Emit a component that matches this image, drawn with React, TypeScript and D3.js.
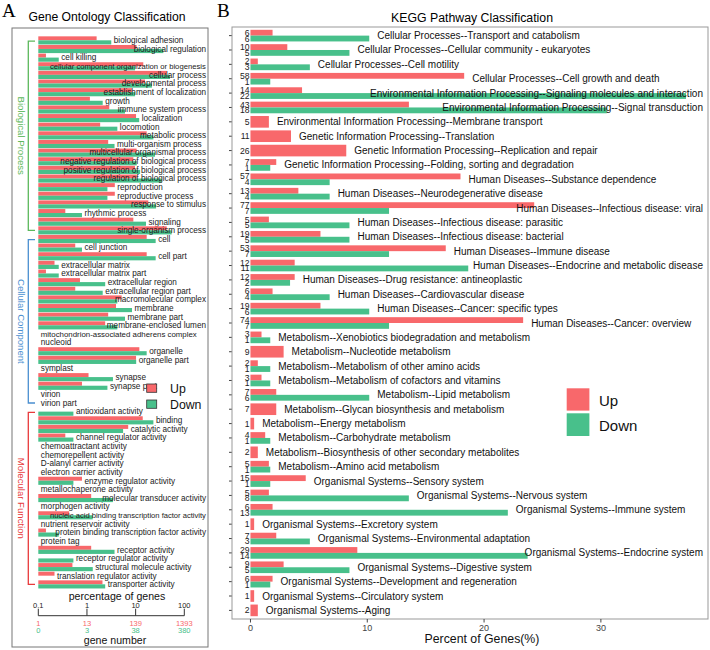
import React, { useEffect, useRef } from 'react';
import * as d3 from 'd3';

// ---- panel A: GO classification (gene counts, Up of 1393 / Down of 380) ----
const goTerms = [
  'biological adhesion', 'biological regulation', 'cell killing',
  'cellular component organization or biogenesis', 'cellular process',
  'developmental process', 'establishment of localization', 'growth',
  'immune system process', 'localization', 'locomotion', 'metabolic process',
  'multi-organism process', 'multicellular organismal process',
  'negative regulation of biological process', 'positive regulation of biological process',
  'regulation of biological process', 'reproduction', 'reproductive process',
  'response to stimulus', 'rhythmic process', 'signaling', 'single-organism process',
  'cell', 'cell junction', 'cell part', 'extracellular matrix', 'extracellular matrix part',
  'extracellular region', 'extracellular region part', 'macromolecular complex',
  'membrane', 'membrane part', 'membrane-enclosed lumen',
  'mitochondrion-associated adherens complex', 'nucleoid', 'organelle', 'organelle part',
  'symplast', 'synapse', 'synapse part', 'virion', 'virion part',
  'antioxidant activity', 'binding', 'catalytic activity', 'channel regulator activity',
  'chemoattractant activity', 'chemorepellent activity', 'D-alanyl carrier activity',
  'electron carrier activity', 'enzyme regulator activity', 'metallochaperone activity',
  'molecular transducer activity', 'morphogen activity',
  'nucleic acid binding transcription factor activity', 'nutrient reservoir activity',
  'protein binding transcription factor activity', 'protein tag', 'receptor activity',
  'receptor regulator activity', 'structural molecule activity',
  'translation regulator activity', 'transporter activity',
];
const goUp = [
  22, 146, 2, 200, 606, 217, 116, 16, 40, 142, 26, 235, 38, 146, 125, 135, 146, 52, 52,
  254, 5, 125, 606,
  235, 8, 235, 3, 2, 10, 8, 72, 55, 38, 33, 0, 0, 166, 142, 0, 15, 11, 0, 0,
  0, 195, 98, 5, 0, 0, 0, 0, 11, 0, 17, 0, 6, 0, 2, 0, 17, 0, 7, 3, 29,
];
const goDown = [
  12, 141, 1, 37, 193, 82, 37, 8, 23, 45, 16, 88, 14, 95, 40, 47, 130, 10, 10,
  100, 3, 62, 209,
  98, 3, 98, 1, 1, 9, 8, 16, 32, 23, 16, 0, 0, 64, 39, 0, 13, 10, 0, 0,
  2, 88, 21, 2, 0, 0, 0, 0, 2, 0, 13, 0, 5, 0, 1, 0, 14, 2, 5, 0, 9,
];
const goGroupNames = ['Biological Process', 'Cellular Component', 'Molecular Function'];
const goGroupSizes = [23, 20, 21];
const goUpTotal = 1393;
const goDownTotal = 380;
const goTicks = [0.1, 1, 10, 100];

// ---- panel B: KEGG classification (Up of 317 / Down of 59 genes) ----
const keggTerms = [
  'Cellular Processes--Transport and catabolism',
  'Cellular Processes--Cellular community - eukaryotes',
  'Cellular Processes--Cell motility',
  'Cellular Processes--Cell growth and death',
  'Environmental Information Processing--Signaling molecules and interaction',
  'Environmental Information Processing--Signal transduction',
  'Environmental Information Processing--Membrane transport',
  'Genetic Information Processing--Translation',
  'Genetic Information Processing--Replication and repair',
  'Genetic Information Processing--Folding, sorting and degradation',
  'Human Diseases--Substance dependence',
  'Human Diseases--Neurodegenerative disease',
  'Human Diseases--Infectious disease: viral',
  'Human Diseases--Infectious disease: parasitic',
  'Human Diseases--Infectious disease: bacterial',
  'Human Diseases--Immune disease',
  'Human Diseases--Endocrine and metabolic disease',
  'Human Diseases--Drug resistance: antineoplastic',
  'Human Diseases--Cardiovascular disease',
  'Human Diseases--Cancer: specific types',
  'Human Diseases--Cancer: overview',
  'Metabolism--Xenobiotics biodegradation and metabolism',
  'Metabolism--Nucleotide metabolism',
  'Metabolism--Metabolism of other amino acids',
  'Metabolism--Metabolism of cofactors and vitamins',
  'Metabolism--Lipid metabolism',
  'Metabolism--Glycan biosynthesis and metabolism',
  'Metabolism--Energy metabolism',
  'Metabolism--Carbohydrate metabolism',
  'Metabolism--Biosynthesis of other secondary metabolites',
  'Metabolism--Amino acid metabolism',
  'Organismal Systems--Sensory system',
  'Organismal Systems--Nervous system',
  'Organismal Systems--Immune system',
  'Organismal Systems--Excretory system',
  'Organismal Systems--Environmental adaptation',
  'Organismal Systems--Endocrine system',
  'Organismal Systems--Digestive system',
  'Organismal Systems--Development and regeneration',
  'Organismal Systems--Circulatory system',
  'Organismal Systems--Aging',
];
const keggUp = [
  6, 10, 2, 58, 14, 43, 5, 11, 26, 7, 57, 13, 77, 5, 19, 53, 12, 12, 6, 19, 74,
  3, 9, 2, 3, 7, 7, 1, 4, 2, 5, 15, 5, 6, 1, 7, 29, 9, 6, 1, 2,
];
const keggDown: (number | null)[] = [
  6, 5, 3, 1, 22, 18, null, null, null, 1, 4, 4, 7, 5, 5, 7, 11, 2, 4, 6, 7,
  1, null, 1, 1, 6, null, null, 1, null, 1, 1, 8, 13, null, 3, 14, 5, 1, null, null,
];
const keggUpTotal = 317;
const keggDownTotal = 59;
const keggTicks = [0, 10, 20, 30];

const RED = '#f8686b';
const GREEN = '#48c08b';
const GROUP_COLORS = ['#5cb85c', '#4a8fd0', '#e8393b'];
const FONT = '"Liberation Sans", Arial, sans-serif';

const App = () => {
  const svgRef = useRef<SVGSVGElement>(null);

  useEffect(() => {
    const svg = d3.select(svgRef.current);
    svg.selectAll('*').remove();
    svg.attr('font-family', FONT);

    // ================= panel A =================
    const a = svg.append('g');
    a.append('text').text('A').attr('x', 2).attr('y', 17)
      .attr('font-family', '"Liberation Serif", serif').attr('font-size', 19);
    a.append('text').text('Gene Ontology Classification')
      .attr('x', 107).attr('y', 21).attr('text-anchor', 'middle').attr('font-size', 12.2);
    a.append('rect').attr('x', 12).attr('y', 28).attr('width', 196).attr('height', 619)
      .attr('fill', 'none').attr('stroke', '#777');

    const gx = d3.scaleLog().domain([0.1, 100]).range([38.3, 184.3]);
    const gy = d3.scaleBand().domain(goTerms).range([36, 36 + 64 * 8.635]);
    const rowH = gy.bandwidth();
    const gPct = (c: number, tot: number) => (c / tot) * 100;

    goTerms.forEach((term, i) => {
      const c = gy(term)! + rowH / 2;
      const up = goUp[i];
      const dn = goDown[i];
      let end = gx(0.1);
      if (up > 0) {
        const w = gx(gPct(up, goUpTotal)) - gx(0.1);
        a.append('rect').attr('x', gx(0.1)).attr('y', c - rowH * 0.46)
          .attr('width', w).attr('height', rowH * 0.46).attr('fill', RED);
        end = Math.max(end, gx(0.1) + w);
      }
      if (dn > 0) {
        const w = gx(gPct(dn, goDownTotal)) - gx(0.1);
        a.append('rect').attr('x', gx(0.1)).attr('y', c)
          .attr('width', w).attr('height', rowH * 0.48).attr('fill', GREEN);
        end = Math.max(end, gx(0.1) + w);
      }
      const t = a.append('text').text(term).attr('y', c).attr('dy', '0.35em')
        .attr('font-size', 8.2).attr('fill', '#1a1a1a');
      let tw = (t.node() as SVGTextElement).getComputedTextLength();
      if (tw > 156) {
        t.attr('font-size', (8.2 * 156) / tw);
        tw = 156;
      }
      let sx = end + 2.5;
      if (sx + tw > 206) sx = 206 - tw;
      t.attr('x', sx);
    });

    // group brackets
    let startIdx = 0;
    goGroupNames.forEach((name, gi) => {
      const first = goTerms[startIdx];
      const last = goTerms[startIdx + goGroupSizes[gi] - 1];
      const y1 = gy(first)! + rowH / 2 + 0.8;
      const y2 = gy(last)! + rowH / 2;
      a.append('path')
        .attr('d', `M35,${y1}H28.3V${y2}H35`)
        .attr('fill', 'none').attr('stroke', GROUP_COLORS[gi]).attr('stroke-width', 1.3);
      a.append('text').text(name)
        .attr('transform', `translate(21.5,${(y1 + y2) / 2}) rotate(90)`)
        .attr('text-anchor', 'middle').attr('dy', '0.35em')
        .attr('font-size', 9.6).attr('fill', GROUP_COLORS[gi]);
      startIdx += goGroupSizes[gi];
    });

    // legend A
    [['Up', RED, 384], ['Down', GREEN, 400]].forEach(([lab, col, y]) => {
      a.append('rect').attr('x', 146.7).attr('y', y as number).attr('width', 10).attr('height', 8.3)
        .attr('fill', col as string).attr('stroke', '#333').attr('stroke-width', 0.8);
      a.append('text').text(lab as string).attr('x', 170).attr('y', (y as number) + 9)
        .attr('font-size', 12.3).attr('fill', '#111');
    });

    // log axis A
    const axY = 615.7;
    a.append('text').text('percentage of genes').attr('x', 117).attr('y', 599.5)
      .attr('text-anchor', 'middle').attr('font-size', 10.6).attr('fill', '#111');
    a.append('line').attr('x1', gx(0.1)).attr('x2', gx(100)).attr('y1', axY).attr('y2', axY)
      .attr('stroke', '#333');
    goTicks.forEach((tk) => {
      const x = gx(tk);
      a.append('line').attr('x1', x).attr('x2', x).attr('y1', axY - 7).attr('y2', axY)
        .attr('stroke', '#333');
      a.append('text').text(String(tk)).attr('x', x).attr('y', 607.5)
        .attr('text-anchor', 'middle').attr('font-size', 7.5).attr('fill', '#222');
      a.append('text').text(String(Math.floor((tk * goUpTotal) / 100))).attr('x', x).attr('y', 626)
        .attr('text-anchor', 'middle').attr('font-size', 7.5).attr('fill', RED);
      a.append('text').text(String(Math.floor((tk * goDownTotal) / 100))).attr('x', x).attr('y', 632.8)
        .attr('text-anchor', 'middle').attr('font-size', 7.5).attr('fill', GREEN);
    });
    a.append('text').text('gene number').attr('x', 115).attr('y', 643.5)
      .attr('text-anchor', 'middle').attr('font-size', 10.6).attr('fill', '#111');

    // ================= panel B =================
    const b = svg.append('g');
    const L = 232, R = 708, T = 27, B = 619;
    b.append('text').text('B').attr('x', 217).attr('y', 17)
      .attr('font-family', '"Liberation Serif", serif').attr('font-size', 19);
    b.append('text').text('KEGG Pathway Classification')
      .attr('x', 472).attr('y', 22).attr('text-anchor', 'middle').attr('font-size', 12.3);

    const bx = d3.scaleLinear().domain([-1.58, 39.17]).range([L, R]);
    const by = d3.scaleBand().domain(keggTerms).range([T, B]).paddingInner(0).paddingOuter(0.1);
    const step = by.step();
    const barH = step * 0.81;

    keggTerms.forEach((term, i) => {
      const c = by(term)! + by.bandwidth() / 2;
      const up = keggUp[i];
      const dn = keggDown[i];
      const upEnd = bx((up / keggUpTotal) * 100);
      let end = upEnd;
      if (dn == null) {
        b.append('rect').attr('x', bx(0)).attr('y', c - barH / 2)
          .attr('width', upEnd - bx(0)).attr('height', barH).attr('fill', RED);
        b.append('text').text(String(up)).attr('x', bx(0) - 0.8).attr('y', c).attr('dy', '0.35em')
          .attr('text-anchor', 'end').attr('font-size', 8.6).attr('fill', '#222');
      } else {
        const dnEnd = bx((dn / keggDownTotal) * 100);
        end = Math.max(upEnd, dnEnd);
        b.append('rect').attr('x', bx(0)).attr('y', c - barH / 2)
          .attr('width', upEnd - bx(0)).attr('height', barH / 2).attr('fill', RED);
        b.append('rect').attr('x', bx(0)).attr('y', c)
          .attr('width', dnEnd - bx(0)).attr('height', barH / 2).attr('fill', GREEN);
        b.append('text').text(String(up)).attr('x', bx(0) - 0.8).attr('y', c - barH / 4).attr('dy', '0.35em')
          .attr('text-anchor', 'end').attr('font-size', 8.6).attr('fill', '#222');
        b.append('text').text(String(dn)).attr('x', bx(0) - 0.8).attr('y', c + barH / 4).attr('dy', '0.35em')
          .attr('text-anchor', 'end').attr('font-size', 8.6).attr('fill', '#222');
      }
      const t = b.append('text').text(term).attr('y', c).attr('dy', '0.35em')
        .attr('font-size', 10).attr('fill', '#111');
      const tw = (t.node() as SVGTextElement).getComputedTextLength();
      let sx = end + 8;
      if (sx + tw > R - 5) sx = R - 5 - tw;
      t.attr('x', sx);
      b.append('line').attr('x1', L - 3).attr('x2', L).attr('y1', c).attr('y2', c)
        .attr('stroke', '#444');
    });

    b.append('rect').attr('x', L).attr('y', T).attr('width', R - L).attr('height', B - T)
      .attr('fill', 'none').attr('stroke', '#999');

    keggTicks.forEach((tk) => {
      b.append('line').attr('x1', bx(tk)).attr('x2', bx(tk)).attr('y1', B).attr('y2', B + 3.5)
        .attr('stroke', '#444');
      b.append('text').text(String(tk)).attr('x', bx(tk)).attr('y', 630.5)
        .attr('text-anchor', 'middle').attr('font-size', 9).attr('fill', '#444');
    });
    b.append('text').text('Percent of Genes(%)').attr('x', 482).attr('y', 643)
      .attr('text-anchor', 'middle').attr('font-size', 12.3).attr('fill', '#111');

    // legend B
    b.append('rect').attr('x', 566.7).attr('y', 388.3).attr('width', 22.7).attr('height', 22.3).attr('fill', RED);
    b.append('rect').attr('x', 566.7).attr('y', 413.3).attr('width', 22.7).attr('height', 22.7).attr('fill', GREEN);
    b.append('text').text('Up').attr('x', 599).attr('y', 405.5).attr('font-size', 15).attr('fill', '#111');
    b.append('text').text('Down').attr('x', 599).attr('y', 430.5).attr('font-size', 15).attr('fill', '#111');
  }, []);

  return (
    <svg
      ref={svgRef}
      width={710}
      height={650}
      style={{ position: 'absolute', left: 0, top: 0, background: '#fff' }}
    />
  );
};

export default App;
